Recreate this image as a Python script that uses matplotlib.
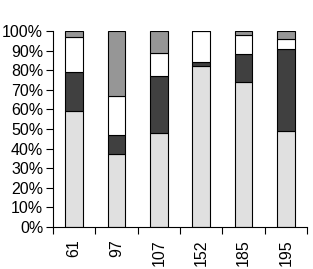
import numpy as np
import matplotlib.pyplot as plt

plt.rcParams['font.family'] = ['Liberation Sans', 'DejaVu Sans']

categorias = ['61', '97', '107', '152', '185', '195']
claro = [59, 37, 48, 82, 74, 49]
escuro = [20, 10, 29, 2, 14, 42]
branco = [18, 20, 12, 16, 10, 5]
cinza = [3, 33, 11, 0, 2, 4]

series = [claro, escuro, branco, cinza]
cores = ['#e0e0e0', '#404040', '#ffffff', '#969696']

fig = plt.figure(figsize=(3.13, 2.69), dpi=100)
ax = fig.add_axes([0.169, 0.156, 0.812, 0.729])

x = np.arange(len(categorias))
base = np.zeros(len(categorias))
for vals, cor in zip(series, cores):
    ax.bar(x, vals, bottom=base, width=0.42, color=cor, edgecolor='black', linewidth=0.8)
    base += np.array(vals)

ax.set_xlim(-0.5, len(categorias) - 0.5)
ax.set_ylim(0, 100)
ax.set_yticks(range(0, 101, 10))
ax.set_yticklabels([f'{v}%' for v in range(0, 101, 10)], fontsize=11.5)
ax.set_xticks(np.arange(-0.5, len(categorias), 1.0))
ax.set_xticklabels([])
ax.set_xticks(x, minor=True)
ax.set_xticklabels(categorias, minor=True, rotation=90, fontsize=11.5)
ax.tick_params(axis='x', which='minor', length=0, pad=9)
ax.tick_params(axis='x', which='major', length=5, direction='out')
ax.tick_params(axis='y', length=5, direction='out', pad=2)

for lado in ['top', 'right']:
    ax.spines[lado].set_visible(False)

fig.savefig('out.png', dpi=100)
